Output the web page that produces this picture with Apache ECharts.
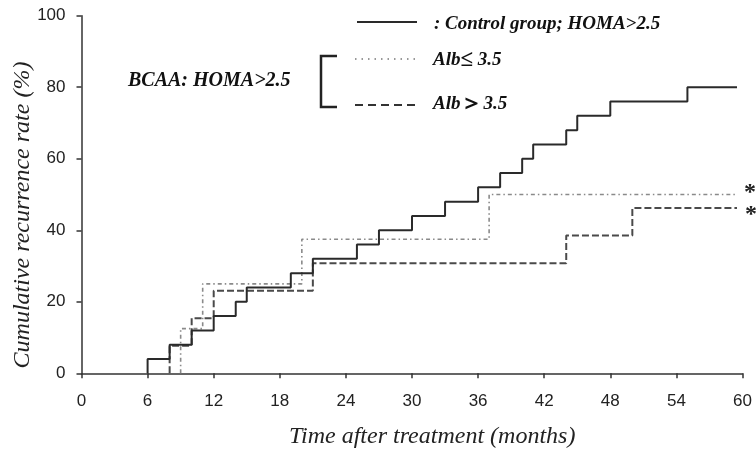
<!DOCTYPE html>
<html>
<head>
<meta charset="utf-8">
<script src="https://cdn.jsdelivr.net/npm/echarts@6/dist/echarts.min.js"></script>
<style>
  html, body { margin: 0; padding: 0; background: #fff; }
  #main { width: 756px; height: 455px; }
</style>
</head>
<body>
<div id="main"></div>
<script>
// months at which each curve steps up, and the cumulative rate after the step (%)
const controlTimes = [6, 8, 10, 12, 14, 15, 19, 21, 25, 27, 30, 33, 36, 38, 40, 41, 44, 45, 48, 55];
const controlRates = [4, 8, 12, 16, 20, 24, 28, 32, 36, 40, 44, 48, 52, 56, 60, 64, 68, 72, 76, 80];
const lowAlbTimes = [9, 11, 20, 37];
const lowAlbRates = [12.5, 25, 37.5, 50];
const highAlbTimes = [8, 10, 12, 21, 44, 50];
const highAlbRates = [7.7, 15.4, 23.1, 30.8, 38.5, 46.2];
const followUpEnd = 59.5;
const xTicks = [0, 6, 12, 18, 24, 30, 36, 42, 48, 54, 60];
const yTicks = [0, 20, 40, 60, 80, 100];

function steps(times, rates) {
  const pts = [[times[0], 0]];
  times.forEach((t, i) => pts.push([t, rates[i]]));
  pts.push([followUpEnd, rates[rates.length - 1]]);
  return pts;
}

const serif = "'Liberation Serif', 'Times New Roman', serif";
const axisColor = "#333";
const legendRich = {
  a: { fontFamily: serif, fontStyle: "italic", fontWeight: "bold", fontSize: 19, fill: "#111", color: "#111" },
  s: { fontFamily: serif, fontWeight: "bold", fontSize: 23, color: "#111" }
};

var myChart = echarts.init(document.getElementById("main"));
myChart.setOption({
  animation: false,
  grid: { left: 81.5, right: 13.5, top: 15.7, bottom: 81.7 },
  xAxis: {
    type: "value",
    min: xTicks[0],
    max: xTicks[xTicks.length - 1],
    interval: 6,
    splitLine: { show: false },
    axisLine: { lineStyle: { color: axisColor, width: 1.5 } },
    axisTick: { length: 5, lineStyle: { color: axisColor, width: 1.5 } },
    axisLabel: {
      margin: 20,
      color: "#222",
      fontSize: 17,
      fontFamily: "'Liberation Sans', Arial, sans-serif"
    }
  },
  yAxis: {
    type: "value",
    min: yTicks[0],
    max: yTicks[yTicks.length - 1],
    interval: 20,
    splitLine: { show: false },
    axisLine: { show: true, lineStyle: { color: axisColor, width: 1.5 } },
    axisTick: { show: true, length: 5, lineStyle: { color: axisColor, width: 1.5 } },
    axisLabel: {
      margin: 16,
      color: "#222",
      fontSize: 17,
      fontFamily: "'Liberation Sans', Arial, sans-serif"
    }
  },
  series: [
    {
      name: "Control",
      type: "line",
      step: "end",
      symbol: "none",
      data: steps(controlTimes, controlRates),
      lineStyle: { color: "#2a2a2a", width: 2 },
      z: 3
    },
    {
      name: "Alb<=3.5",
      type: "line",
      step: "end",
      symbol: "none",
      data: steps(lowAlbTimes, lowAlbRates),
      lineStyle: { color: "#8a8a8a", width: 1.6, type: [4, 3, 1.5, 3] },
      z: 2
    },
    {
      name: "Alb>3.5",
      type: "line",
      step: "end",
      symbol: "none",
      data: steps(highAlbTimes, highAlbRates),
      lineStyle: { color: "#4a4a4a", width: 2, type: [7, 3] },
      z: 2
    }
  ],
  graphic: [
    // axis names
    {
      type: "text", x: 289, y: 437,
      style: { text: "Time after treatment (months)", font: "italic 24px " + serif, fill: "#222", verticalAlign: "middle" }
    },
    {
      type: "text", x: 23, y: 215, rotation: Math.PI / 2,
      style: { text: "Cumulative recurrence rate (%)", font: "italic 24px " + serif, fill: "#222", align: "center", verticalAlign: "middle" }
    },
    // legend
    { type: "line", shape: { x1: 357, y1: 22, x2: 417, y2: 22 }, style: { stroke: "#2a2a2a", lineWidth: 2 } },
    {
      type: "text", x: 434, y: 24,
      style: { text: ": Control group; HOMA>2.5", font: "italic bold 19px " + serif, fill: "#111", verticalAlign: "middle" }
    },
    { type: "line", shape: { x1: 355, y1: 59, x2: 417, y2: 59 }, style: { stroke: "#777", lineWidth: 1.5, lineDash: [1.5, 5] } },
    {
      type: "text", x: 433, y: 60,
      style: { text: "{a|Alb}{s|\u2264}{a| 3.5}", rich: legendRich, fill: "#111", verticalAlign: "middle" }
    },
    { type: "line", shape: { x1: 355, y1: 105, x2: 420, y2: 105 }, style: { stroke: "#333", lineWidth: 1.8, lineDash: [8, 5] } },
    {
      type: "text", x: 433, y: 104,
      style: { text: "{a|Alb}{s|\uFF1E}{a|3.5}", rich: legendRich, fill: "#111", verticalAlign: "middle" }
    },
    {
      type: "polyline",
      shape: { points: [[337, 56], [321, 56], [321, 107], [337, 107]] },
      style: { stroke: "#222", lineWidth: 2.5, fill: null }
    },
    {
      type: "text", x: 128, y: 81,
      style: { text: "BCAA: HOMA>2.5", font: "italic bold 20px " + serif, fill: "#111", verticalAlign: "middle" }
    },
    // significance marks
    { type: "text", x: 750, y: 193, style: { text: "*", font: "bold 24px " + serif, fill: "#222", align: "center", verticalAlign: "middle" } },
    { type: "text", x: 751, y: 215, style: { text: "*", font: "bold 24px " + serif, fill: "#222", align: "center", verticalAlign: "middle" } }
  ]
});
window.onresize = function() {
  myChart.resize();
};
</script>
</body>
</html>
